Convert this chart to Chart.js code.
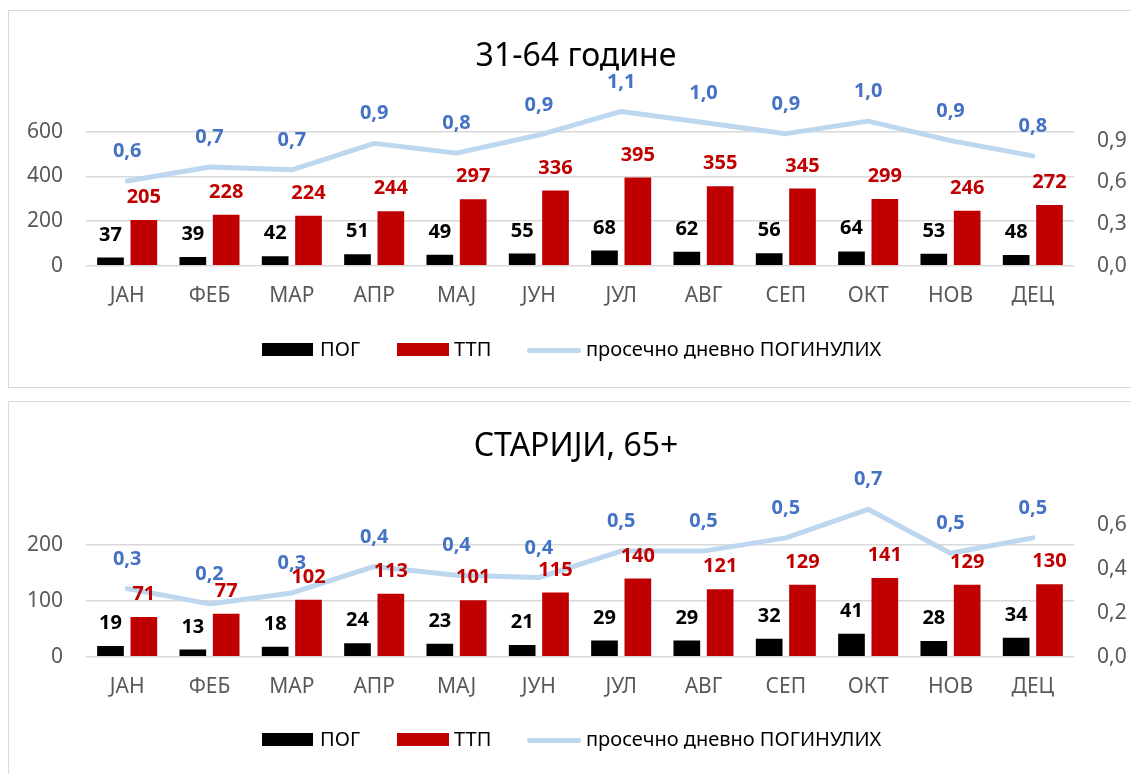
<!DOCTYPE html>
<html>
<head>
<meta charset="utf-8">
<script src="https://cdn.jsdelivr.net/npm/chart.js@4.4.0/dist/chart.umd.min.js"></script>
<style>
  html,body{margin:0;padding:0;background:#fff;}
  body{width:1131px;height:774px;position:relative;overflow:hidden;font-family:"Noto Sans",sans-serif;}
  .panel{position:absolute;left:8px;width:1200px;border:1.5px solid #D9D9D9;box-sizing:border-box;}
  .cv{position:absolute;left:0;}
  .title{position:absolute;left:0;width:1152px;text-align:center;font-size:32px;line-height:32px;color:#000;white-space:nowrap;}
  .lg{position:absolute;}
  .lgtext{position:absolute;font-size:20px;line-height:20px;color:#000;white-space:nowrap;}
</style>
</head>
<body>
<div class="panel" style="top:10px;height:378px;"></div>
<div class="panel" style="top:401px;height:400px;"></div>

<div class="cv" style="top:0;width:1131px;height:390px;"><canvas id="c1" width="1131" height="390"></canvas></div>
<div class="cv" style="top:390px;width:1131px;height:384px;"><canvas id="c2" width="1131" height="384"></canvas></div>

<div class="title" style="top:38px;">31-64 године</div>
<div class="title" style="top:428px;">СТАРИЈИ, 65+</div>

<div id="legend1"></div>
<div id="legend2"></div>

<script>
const months = ['ЈАН','ФЕБ','МАР','АПР','МАЈ','ЈУН','ЈУЛ','АВГ','СЕП','ОКТ','НОВ','ДЕЦ'];
const seriesNames = ['ПОГ','ТТП','просечно дневно ПОГИНУЛИХ'];

const pog1 = [37,39,42,51,49,55,68,62,56,64,53,48];
const ttp1 = [205,228,224,244,297,336,395,355,345,299,246,272];
const avg1 = [0.61,0.71,0.69,0.88,0.81,0.94,1.11,1.03,0.95,1.04,0.90,0.79];

const pog2 = [19,13,18,24,23,21,29,29,32,41,28,34];
const ttp2 = [71,77,102,113,101,115,140,121,129,141,129,130];
const avg2 = [0.31,0.24,0.29,0.41,0.37,0.36,0.48,0.48,0.54,0.67,0.47,0.54];

const leftTicks1 = [0,200,400,600];
const rightTicks1 = [0,0.3,0.6,0.9];
const leftTicks2 = [0,100,200];
const rightTicks2 = [0,0.2,0.4,0.6];

const FONT = '"Noto Sans", sans-serif';
const C_BLACK = '#000000', C_RED = '#C00000', C_LINE = '#BDD7EE', C_BLUE = '#4472C4', C_AXIS = '#595959', C_GRID = '#D9D9D9';

const fmtDec = v => v.toFixed(1).replace('.', ',');

const labelPlugin = {
  id: 'valueLabels',
  afterDatasetsDraw(chart) {
    const ctx = chart.ctx;
    ctx.save();
    ctx.font = 'bold 20px ' + FONT;
    ctx.textAlign = 'center';
    ctx.textBaseline = 'alphabetic';
    chart.data.datasets.forEach((ds, di) => {
      const meta = chart.getDatasetMeta(di);
      meta.data.forEach((el, i) => {
        const v = ds.data[i];
        let txt, color, off;
        if (ds.type === 'line') { txt = fmtDec(v); color = C_BLUE; off = 31; }
        else { txt = String(v); color = di === 0 ? C_BLACK : C_RED; off = 24; }
        ctx.fillStyle = color;
        ctx.fillText(txt, el.x, el.y - off + 7.1);
      });
    });
    ctx.restore();
  }
};

function makeChart(id, pog, ttp, avg, lTicks, rTicks, lMax, rMax, xHeight) {
  return new Chart(document.getElementById(id), {
    data: {
      labels: months,
      datasets: [
        { type: 'bar', label: seriesNames[0], data: pog, backgroundColor: C_BLACK, yAxisID: 'y', order: 1,
          categoryPercentage: 0.81, barPercentage: 0.8 },
        { type: 'bar', label: seriesNames[1], data: ttp, backgroundColor: C_RED, yAxisID: 'y', order: 1,
          categoryPercentage: 0.81, barPercentage: 0.8 },
        { type: 'line', label: seriesNames[2], data: avg, borderColor: C_LINE, backgroundColor: C_LINE,
          borderWidth: 5, pointRadius: 0, tension: 0, yAxisID: 'y1', order: 0,
          borderCapStyle: 'round', borderJoinStyle: 'round' }
      ]
    },
    options: {
      responsive: false,
      animation: false,
      layout: { padding: { top: 80, left: 0, right: 0, bottom: 0 } },
      plugins: { legend: { display: false }, title: { display: false }, tooltip: { enabled: false } },
      scales: {
        x: {
          grid: { display: false, drawTicks: false },
          border: { display: false },
          ticks: { color: C_AXIS, font: { family: FONT, size: 21 }, padding: 18, maxRotation: 0 },
          afterFit: s => { s.height = xHeight; }
        },
        y: {
          position: 'left', min: 0, max: lMax,
          ticks: { color: C_AXIS, font: { family: FONT, size: 21 }, padding: 23,
                   callback: v => String(Math.round(v)) },
          grid: { color: C_GRID, lineWidth: 1.5, drawTicks: false },
          border: { display: false },
          afterBuildTicks: s => { s.ticks = lTicks.map(v => ({ value: v })); },
          afterFit: s => { s.width = 86; }
        },
        y1: {
          position: 'right', min: 0, max: rMax,
          ticks: { color: C_AXIS, font: { family: FONT, size: 21 }, padding: 23,
                   callback: v => fmtDec(v) },
          grid: { display: false, drawTicks: false },
          border: { display: false },
          afterBuildTicks: s => { s.ticks = rTicks.map(v => ({ value: v })); },
          afterFit: s => { s.width = 1131 - 1074; }
        }
      }
    },
    plugins: [labelPlugin]
  });
}

makeChart('c1', pog1, ttp1, avg1, leftTicks1, rightTicks1, 830.9, 1.336, 390 - 265.7);
makeChart('c2', pog2, ttp2, avg2, leftTicks2, rightTicks2, 334.6, 0.8486, 384 - 266.7);

function buildLegend(id, centerY) {
  const el = document.getElementById(id);
  const top = centerY - 7;
  const textTop = centerY - 10.8;
  el.innerHTML =
    `<div class="lg" style="left:262px;top:${top}px;width:51px;height:13px;background:${C_BLACK}"></div>` +
    `<div class="lgtext" style="left:320px;top:${textTop}px;">${seriesNames[0]}</div>` +
    `<div class="lg" style="left:397px;top:${top}px;width:52px;height:13px;background:${C_RED}"></div>` +
    `<div class="lgtext" style="left:454px;top:${textTop}px;">${seriesNames[1]}</div>` +
    `<div class="lg" style="left:527px;top:${centerY - 2.5}px;width:54px;height:5px;border-radius:2.5px;background:${C_LINE}"></div>` +
    `<div class="lgtext" style="left:586px;top:${textTop}px;">${seriesNames[2]}</div>`;
}
buildLegend('legend1', 350);
buildLegend('legend2', 740);
</script>
</body>
</html>
